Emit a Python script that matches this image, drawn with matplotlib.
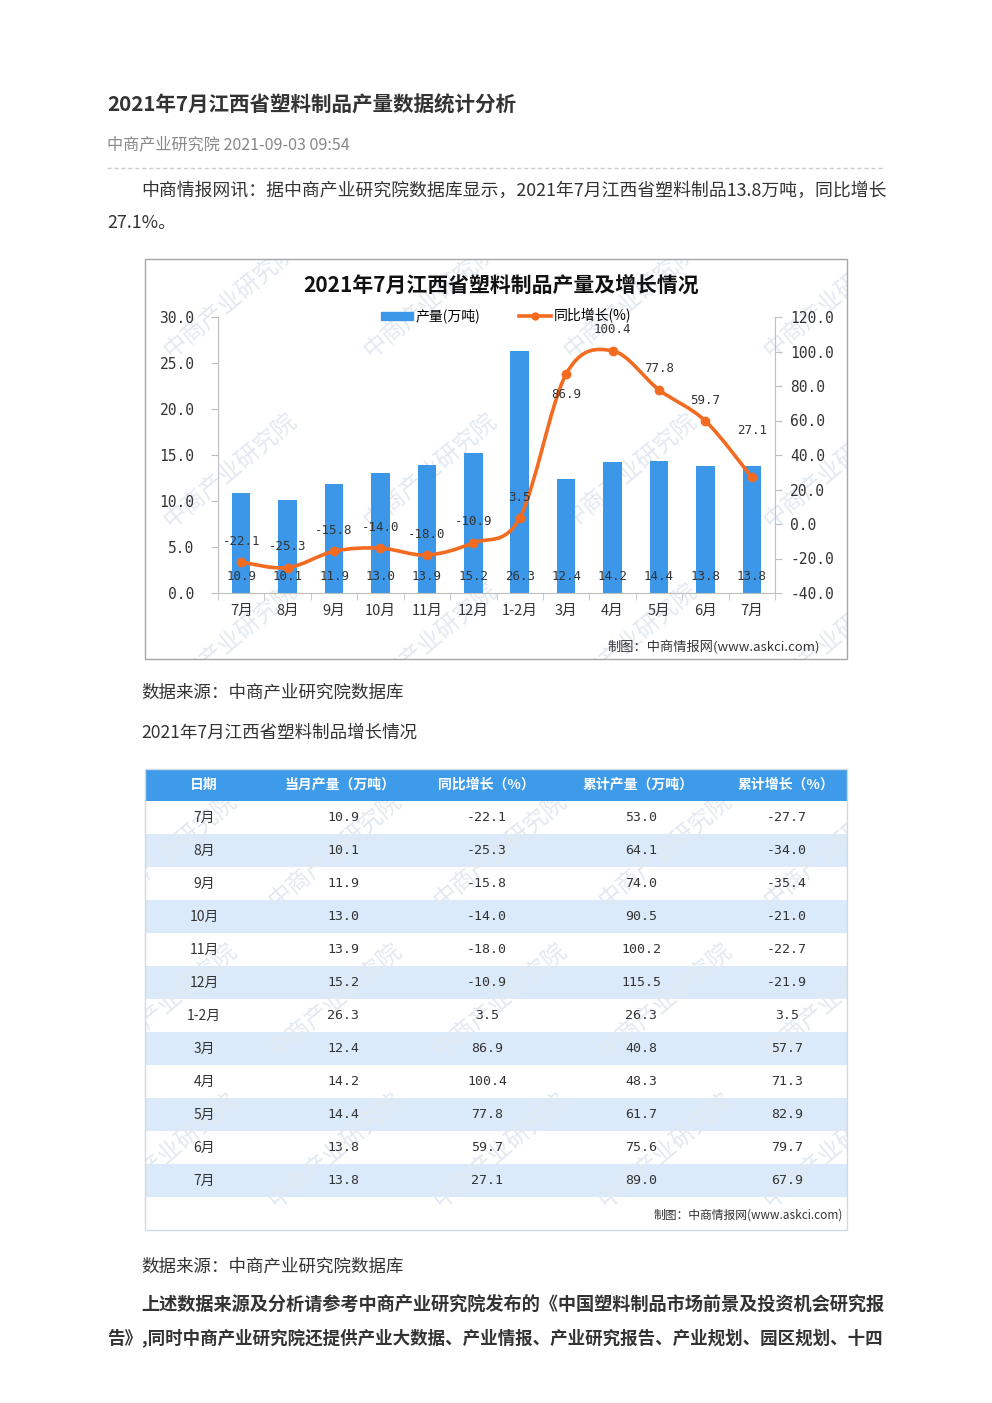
import numpy as np
import matplotlib
matplotlib.use("Agg")
import matplotlib.pyplot as plt
from matplotlib.patches import Rectangle, PathPatch
from matplotlib.path import Path
from matplotlib.lines import Line2D

plt.rcParams['font.family'] = ['Noto Sans CJK SC', 'DejaVu Sans']

# data
months = ['7月', '8月', '9月', '10月', '11月', '12月', '1-2月', '3月', '4月', '5月', '6月', '7月']
output = [10.9, 10.1, 11.9, 13.0, 13.9, 15.2, 26.3, 12.4, 14.2, 14.4, 13.8, 13.8]
yoy = [-22.1, -25.3, -15.8, -14.0, -18.0, -10.9, 3.5, 86.9, 100.4, 77.8, 59.7, 27.1]
cum_output = [53.0, 64.1, 74.0, 90.5, 100.2, 115.5, 26.3, 40.8, 48.3, 61.7, 75.6, 89.0]
cum_growth = [-27.7, -34.0, -35.4, -21.0, -22.7, -21.9, 3.5, 57.7, 71.3, 82.9, 79.7, 67.9]
table_header = ['日期', '当月产量（万吨）', '同比增长（%）', '累计产量（万吨）', '累计增长（%）']

BLUE = '#3d97e8'
ORANGE = '#f26b21'
TEXT = '#333333'
MONO = ['DejaVu Sans Mono', 'Noto Sans CJK SC']

W, H = 992, 1403
fig = plt.figure(figsize=(W / 100, H / 100), dpi=100)
page = fig.add_axes([0, 0, 1, 1])
page.set_xlim(0, W)
page.set_ylim(H, 0)
page.axis('off')

CHART_BOX = (145, 259, 702, 400)
top, head_h, row_h = 769, 32, 33
tbl_bottom = top + head_h + len(months) * row_h + 33
TABLE_BOX = (145, top, 702, tbl_bottom - top)


def watermarks(xs, ys):
    for yy in ys:
        for xx in xs:
            page.text(xx, yy, '中商产业研究院', fontsize=17, rotation=40,
                      color='#e2e9f1', ha='center', va='center', zorder=1)


# watermarks are drawn loosely, then white masks hide everything outside the boxes
watermarks([230, 430, 630, 830], [300, 470, 640])
watermarks([170, 335, 500, 665, 830], [850, 1000, 1150])
masks = [(0, 0, W, CHART_BOX[1]),
         (0, 0, CHART_BOX[0], H), (CHART_BOX[0] + CHART_BOX[2], 0, W, H),
         (0, CHART_BOX[1] + CHART_BOX[3], W, TABLE_BOX[1] - CHART_BOX[1] - CHART_BOX[3]),
         (0, tbl_bottom, W, H - tbl_bottom)]
for mx, my, mw, mh in masks:
    page.add_patch(Rectangle((mx, my), mw, mh, facecolor='white', lw=0, zorder=1.5))

# --- article header
page.text(107, 105, '2021年7月江西省塑料制品产量数据统计分析', fontsize=14.8,
          fontweight='bold', color=TEXT, va='center')
page.text(107, 145, '中商产业研究院 2021-09-03 09:54', fontsize=11.6,
          color='#888888', va='center')
page.plot([107, 885], [168, 168], ls=(0, (3, 2)), color='#cccccc', lw=1, zorder=2)
page.text(141, 191, '中商情报网讯：据中商产业研究院数据库显示，2021年7月江西省塑料制品13.8万吨，同比增长',
          fontsize=12.85, color=TEXT, va='center')
page.text(107, 223, '27.1%。', fontsize=12.85, color=TEXT, va='center')

# --- chart box
page.add_patch(Rectangle(CHART_BOX[:2], CHART_BOX[2], CHART_BOX[3], fill=False,
                         edgecolor='#a6a6a6', lw=1, zorder=2))
page.text(501, 285, '2021年7月江西省塑料制品产量及增长情况', fontsize=15,
          fontweight='bold', color='#111111', ha='center', va='center')
page.text(820, 647, '制图：中商情报网(www.askci.com)', fontsize=9.5,
          color=TEXT, ha='right', va='center')

ax = fig.add_axes([218 / W, 1 - 593 / H, 557 / W, 276 / H])
ax.patch.set_alpha(0)
x = np.arange(len(months))
ax.bar(x, output, width=0.4, color=BLUE, zorder=2)
ax.set_xlim(-0.5, len(months) - 0.5)
ax.set_ylim(0, 30)
ax.set_yticks(np.arange(0, 31, 5))
ax.set_yticklabels([f'{v:.1f}' for v in np.arange(0, 31, 5)], fontsize=10.5,
                   family=MONO, color=TEXT)
ax.set_xticks(x)
ax.set_xticklabels(months, fontsize=10.5, color=TEXT)
ax.set_xticks(np.arange(-0.5, len(months)), minor=True)
ax.tick_params(axis='x', which='major', length=0, pad=8)
ax.tick_params(axis='x', which='minor', length=5, color='#bfbfbf', direction='out')
ax.tick_params(axis='y', length=5, color='#bfbfbf', pad=12)
for s in ['top', 'right']:
    ax.spines[s].set_visible(False)
for s in ['left', 'bottom']:
    ax.spines[s].set_color('#bfbfbf')

for i, v in enumerate(output):
    ax.annotate(f'{v:.1f}', (i, 0), xytext=(0, 12), textcoords='offset points',
                ha='center', va='center', fontsize=9, family=MONO, color=TEXT, zorder=3)

ax2 = ax.twinx()
ax2.set_ylim(-40, 120)
rticks = np.arange(-40, 121, 20)
ax2.set_yticks(rticks)
ax2.set_yticklabels([f'{v:.1f}' for v in rticks], fontsize=10.5, family=MONO, color=TEXT)
ax2.tick_params(axis='y', length=5, color='#bfbfbf', pad=6)
for s in ['top', 'left', 'bottom']:
    ax2.spines[s].set_visible(False)
ax2.spines['right'].set_color('#bfbfbf')

# smoothed line (Catmull-Rom style bezier through the data points)
pts = np.column_stack([x, yoy]).astype(float)
n = len(pts)
verts = [tuple(pts[0])]
codes = [Path.MOVETO]
for i in range(n - 1):
    p0 = pts[max(i - 1, 0)]
    p1 = pts[i]
    p2 = pts[i + 1]
    p3 = pts[min(i + 2, n - 1)]
    verts += [tuple(p1 + (p2 - p0) / 6), tuple(p2 - (p3 - p1) / 6), tuple(p2)]
    codes += [Path.CURVE4] * 3
ax2.add_patch(PathPatch(Path(verts, codes), fill=False, edgecolor=ORANGE, lw=2.6, zorder=4))
ax2.plot(x, yoy, 'o', color=ORANGE, ms=6, zorder=5)

label_dy = [15, 15, 15, 15, 15, 15, 15, -15, 15, 15, 15, 34]
for i, v in enumerate(yoy):
    ax2.annotate(f'{v:.1f}', (i, v), xytext=(0, label_dy[i]), textcoords='offset points',
                 ha='center', va='center', fontsize=9, family=MONO, color=TEXT, zorder=6)

handles = [Rectangle((0, 0), 1, 1, color=BLUE),
           Line2D([], [], color=ORANGE, lw=2.6, marker='o', ms=5)]
fig.legend(handles, ['产量(万吨)', '同比增长(%)'], loc='center',
           bbox_to_anchor=(506 / W, 1 - 316 / H), ncol=2, frameon=False,
           fontsize=10, handlelength=2.3, handleheight=0.5, handletextpad=0.2,
           columnspacing=2.8)

# --- text between chart and table
page.text(141, 693, '数据来源：中商产业研究院数据库', fontsize=12.6, color=TEXT, va='center')
page.text(141, 733, '2021年7月江西省塑料制品增长情况', fontsize=12.6, color=TEXT, va='center')

# --- table
col_x = [204, 343, 487, 641, 787]
head_x = [204, 340, 486, 638, 786]
page.add_patch(Rectangle((145, top), 702, head_h, facecolor='#3d9be9', lw=0, zorder=1.6))
for j, h in enumerate(table_header):
    page.text(head_x[j], top + head_h / 2, h, fontsize=10, fontweight='bold',
              color='white', ha='center', va='center', zorder=3)
for r in range(len(months)):
    y0 = top + head_h + r * row_h
    page.add_patch(Rectangle((145, y0), 702, row_h, lw=0, zorder=0,
                             facecolor='#dbeafa' if r % 2 else 'white'))
    yc = y0 + row_h / 2
    page.text(col_x[0], yc, months[r], fontsize=10, color=TEXT, ha='center', va='center', zorder=3)
    vals = [output[r], yoy[r], cum_output[r], cum_growth[r]]
    for j, v in enumerate(vals):
        page.text(col_x[j + 1], yc, f'{v:.1f}', fontsize=9.5, family=MONO,
                  color=TEXT, ha='center', va='center', zorder=3)
page.add_patch(Rectangle(TABLE_BOX[:2], TABLE_BOX[2], TABLE_BOX[3], fill=False,
                         edgecolor='#d0d8e0', lw=1, zorder=2))
page.text(843, 1215, '制图：中商情报网(www.askci.com)', fontsize=8.5, color=TEXT,
          ha='right', va='center', zorder=3)

# --- text after table
page.text(141, 1267, '数据来源：中商产业研究院数据库', fontsize=12.6, color=TEXT, va='center')
page.text(141, 1305, '上述数据来源及分析请参考中商产业研究院发布的《中国塑料制品市场前景及投资机会研究报',
          fontsize=13.1, fontweight='bold', color=TEXT, va='center')
page.text(107, 1338, '告》,同时中商产业研究院还提供产业大数据、产业情报、产业研究报告、产业规划、园区规划、十四',
          fontsize=12.6, fontweight='bold', color=TEXT, va='center')

fig.savefig('out.png', dpi=100, facecolor='white')
